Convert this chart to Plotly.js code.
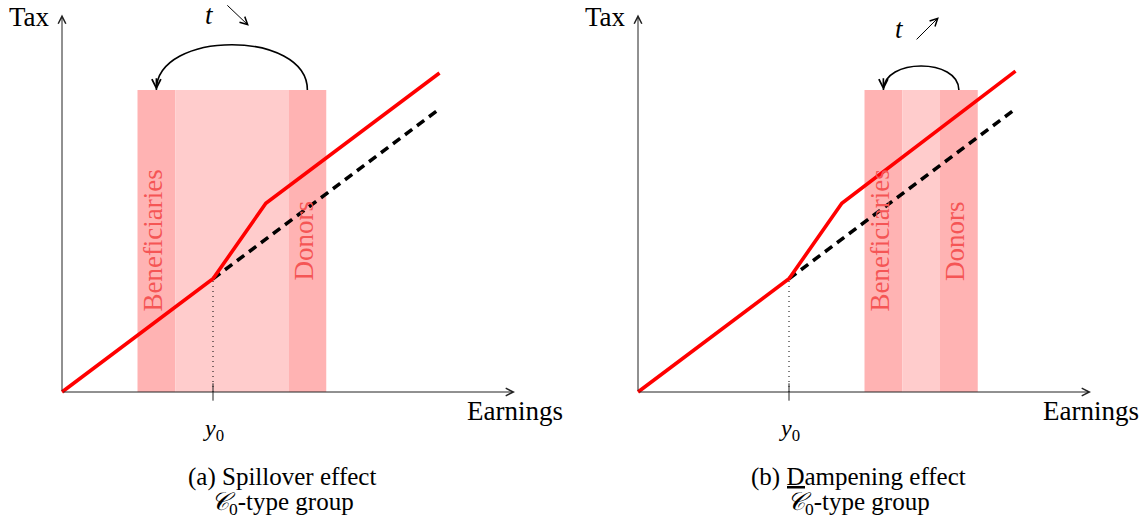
<!DOCTYPE html>
<html>
<head>
<meta charset="utf-8">
<script src="https://cdn.plot.ly/plotly-3.0.1.min.js"></script>
<style>
html,body{margin:0;padding:0;background:#fff;}
#chart{width:1148px;height:521px;}
</style>
</head>
<body>
<div id="chart"></div>
<script>
// ---- data (in diagram units) ----
const y0Earnings = 4;          // y0 position on the earnings axis
const taxAtY0 = 3;             // tax at y0
const xAxisEnd = 12;
const yAxisEnd = 10;

// (a) spillover effect
const leftRedX = [0, 4, 5.4, 10];
const leftRedY = [0, 3, 5, 8.45];
const leftDashX = [4, 10];
const leftDashY = [3, 7.5];
const leftBenefBand = [2, 3];
const leftMidBand = [3, 6];
const leftDonorBand = [6, 7];
const leftArc = {from: 6.5, to: 2.5, lift: 1.6};
const leftTArrow = [[4.34, 10.28], [4.95, 9.70]];

// (b) dampening effect
const rightRedX = [0, 4, 5.4, 10];
const rightRedY = [0, 3, 5, 8.5];
const rightDashX = [4, 10];
const rightDashY = [3, 7.5];
const rightBenefBand = [6, 7];
const rightMidBand = [7, 8];
const rightDonorBand = [8, 9];
const rightArc = {from: 8.5, to: 6.5, lift: 0.85};
const rightTArrow = [[7.34, 9.30], [7.97, 9.93]];

const bandTop = 8;

// ---- labels ----
const axisLabels = {tax: 'Tax', earnings: 'Earnings', y0: '<i>y</i><sub>0</sub>'};
const bandLabels = ['Beneficiaries', 'Donors'];
const captionA = ['(a) Spillover effect', '<i>𝒞</i><sub>0</sub>-type group'];
const captionB = ['(b) Dampening effect', '<span style="text-decoration:overline"><i>𝒞</i></span><sub>0</sub>-type group'];

// ---- styling ----
const FONT = '"Liberation Serif", "DejaVu Serif", serif';
const RED = '#ff0000';
const DARK_BAND = '#ffb3b3';
const LIGHT_BAND = '#ffcccc';
const LABEL_RED = 'rgb(245,85,85)';
const unit = 37.75; // px per diagram unit
const W = 1148, H = 521;

function xRange(ox, d0, d1) {
  return [-(ox - d0) / unit, (d1 - ox) / unit];
}
const yRange = [-(H - 392) / unit, 392 / unit];

const traces = [];
const shapes = [];
const annotations = [];

function panel(xa, redX, redY, dashX, dashY, benef, mid, donor, arc, tArrow) {
  const xr = xa === 'x' ? 'x' : 'x2';
  // bands
  [[benef, DARK_BAND], [mid, LIGHT_BAND], [donor, DARK_BAND]].forEach(([b, c]) => {
    shapes.push({type: 'rect', xref: xr, yref: 'y', x0: b[0], x1: b[1], y0: 0, y1: bandTop,
      fillcolor: c, line: {width: 0}, layer: 'below'});
  });
  // dotted guide at y0
  traces.push({x: [y0Earnings, y0Earnings], y: [0, taxAtY0], xaxis: xa, yaxis: 'y', mode: 'lines',
    line: {color: '#000', width: 1, dash: '1px,4px'}, hoverinfo: 'skip'});
  // tick at y0
  traces.push({x: [y0Earnings, y0Earnings], y: [-0.23, 0.23], xaxis: xa, yaxis: 'y', mode: 'lines',
    line: {color: '#222', width: 1}, hoverinfo: 'skip'});
  // dashed baseline schedule
  traces.push({x: dashX, y: dashY, xaxis: xa, yaxis: 'y', mode: 'lines',
    line: {color: '#000', width: 3.5, dash: '9px,6px'}, hoverinfo: 'skip'});
  // red schedule
  traces.push({x: redX, y: redY, xaxis: xa, yaxis: 'y', mode: 'lines',
    line: {color: RED, width: 3.6}, hoverinfo: 'skip'});
  // axes arrows
  annotations.push({xref: xr, yref: 'y', axref: xr, ayref: 'y', x: xAxisEnd, y: 0, ax: 0, ay: 0,
    text: '', showarrow: true, arrowhead: 5, arrowsize: 1.5, arrowwidth: 1, arrowcolor: '#222', standoff: 0});
  annotations.push({xref: xr, yref: 'y', axref: xr, ayref: 'y', x: 0, y: yAxisEnd, ax: 0, ay: 0,
    text: '', showarrow: true, arrowhead: 5, arrowsize: 1.5, arrowwidth: 1, arrowcolor: '#222', standoff: 0});
  // curved transfer arrow
  const top = bandTop + arc.lift;
  shapes.push({type: 'path', xref: xr, yref: 'y',
    path: `M ${arc.from},${bandTop} C ${arc.from},${top} ${arc.to},${top} ${arc.to},${bandTop}`,
    line: {color: '#000', width: 1.6}});
  annotations.push({xref: xr, yref: 'y', axref: xr, ayref: 'y', x: arc.to, y: bandTop, ax: arc.to, ay: bandTop + 0.35,
    text: '', showarrow: true, arrowhead: 5, arrowsize: 1.1, arrowwidth: 1.6, arrowcolor: '#000', standoff: 0});
  // t arrow
  annotations.push({xref: xr, yref: 'y', axref: xr, ayref: 'y', x: tArrow[1][0], y: tArrow[1][1],
    ax: tArrow[0][0], ay: tArrow[0][1],
    text: '', showarrow: true, arrowhead: 5, arrowsize: 1.5, arrowwidth: 1, arrowcolor: '#000', standoff: 0});
  annotations.push({xref: xr, yref: 'y', x: tArrow[0][0] - 0.42, y: (tArrow[0][1] + tArrow[1][1]) / 2,
    text: '<i>t</i>', showarrow: false, font: {family: FONT, size: 27, color: '#000'},
    xanchor: 'center', yanchor: 'middle'});
  // band labels
  annotations.push({xref: xr, yref: 'y', x: (benef[0] + benef[1]) / 2 - 0.1, y: 4.0,
    text: bandLabels[0], textangle: -90, showarrow: false,
    font: {family: FONT, size: 27, color: LABEL_RED}, xanchor: 'center', yanchor: 'middle'});
  annotations.push({xref: xr, yref: 'y', x: (donor[0] + donor[1]) / 2 - 0.1, y: 4.0,
    text: bandLabels[1], textangle: -90, showarrow: false,
    font: {family: FONT, size: 27, color: LABEL_RED}, xanchor: 'center', yanchor: 'middle'});
  // axis labels
  annotations.push({xref: xr, yref: 'y', x: -0.26, y: 9.93, text: axisLabels.tax, showarrow: false,
    font: {family: FONT, size: 27, color: '#000'}, xanchor: 'right', yanchor: 'middle'});
  annotations.push({xref: xr, yref: 'y', x: 10.67, y: -0.5, text: axisLabels.earnings, showarrow: false,
    font: {family: FONT, size: 27, color: '#000'}, xanchor: 'left', yanchor: 'middle'});
  annotations.push({xref: xr, yref: 'y', x: y0Earnings, y: -1.0, text: axisLabels.y0, showarrow: false,
    font: {family: FONT, size: 24, color: '#000'}, xanchor: 'center', yanchor: 'middle'});
}

panel('x', leftRedX, leftRedY, leftDashX, leftDashY, leftBenefBand, leftMidBand, leftDonorBand, leftArc, leftTArrow);
panel('x2', rightRedX, rightRedY, rightDashX, rightDashY, rightBenefBand, rightMidBand, rightDonorBand, rightArc, rightTArrow);

// captions
[[captionA, 282], [captionB, 858]].forEach(([cap, cx]) => {
  annotations.push({xref: 'paper', yref: 'paper', x: cx / W, y: 1 - 477 / H, text: cap[0], showarrow: false,
    font: {family: FONT, size: 25, color: '#000'}, xanchor: 'center', yanchor: 'middle'});
  annotations.push({xref: 'paper', yref: 'paper', x: cx / W, y: 1 - 503 / H, text: cap[1], showarrow: false,
    font: {family: FONT, size: 25, color: '#000'}, xanchor: 'center', yanchor: 'middle'});
});

const axisCommon = {visible: false, showgrid: false, zeroline: false, fixedrange: true};
const layout = {
  width: W, height: H,
  margin: {l: 0, r: 0, t: 0, b: 0, pad: 0},
  paper_bgcolor: '#fff', plot_bgcolor: 'rgba(0,0,0,0)',
  showlegend: false,
  xaxis: Object.assign({}, axisCommon, {domain: [0, 574 / W], range: xRange(62, 0, 574), anchor: 'y'}),
  xaxis2: Object.assign({}, axisCommon, {domain: [574 / W, 1], range: xRange(638, 574, 1148), anchor: 'y'}),
  yaxis: Object.assign({}, axisCommon, {domain: [0, 1], range: yRange, anchor: 'x'}),
  shapes: shapes,
  annotations: annotations
};

Plotly.newPlot('chart', traces, layout, {staticPlot: true, displayModeBar: false});
</script>
</body>
</html>
